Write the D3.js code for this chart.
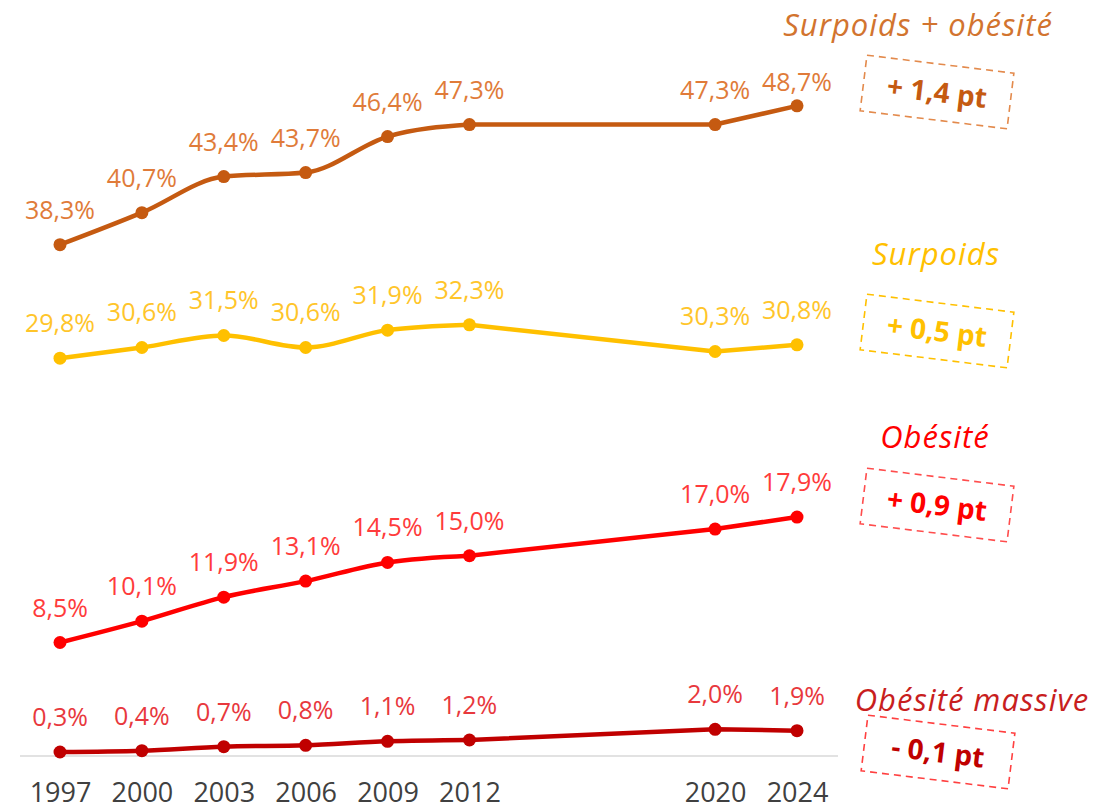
<!DOCTYPE html>
<meta charset="utf-8">
<style>
body { margin: 0; background: #fff; font-family: "Open Sans", sans-serif; }
</style>
<body>
<svg width="1107" height="810"></svg>
<script src="https://d3js.org/d3.v7.min.js"></script>
<script>

var years = ["1997", "2000", "2003", "2006", "2009", "2012", "2020", "2024"];
// position of each year on the axis (2015 and 2018 are empty slots)
var slots = [0, 1, 2, 3, 4, 5, 8, 9];

var surpoidsObesite = [38.3, 40.7, 43.4, 43.7, 46.4, 47.3, 47.3, 48.7];
var surpoids        = [29.8, 30.6, 31.5, 30.6, 31.9, 32.3, 30.3, 30.8];
var obesite         = [8.5, 10.1, 11.9, 13.1, 14.5, 15.0, 17.0, 17.9];
var obesiteMassive  = [0.3, 0.4, 0.7, 0.8, 1.1, 1.2, 2.0, 1.9];

var seriesNames = ["Surpoids + obésité", "Surpoids", "Obésité", "Obésité massive"];
var evolutions  = ["+ 1,4 pt", "+ 0,5 pt", "+ 0,9 pt", "- 0,1 pt"];

var seriesValues = [surpoidsObesite, surpoids, obesite, obesiteMassive];

// look of each series
var styles = [
    {line: "#C55A11", label: "#E07B39", name: "#D2742F", box: "#E38A4C", boxText: "#C55A11", nameX: 918, nameY: 36, boxX: 937, boxY: 92},
    {line: "#FFC000", label: "#FFC52A", name: "#FFC000", box: "#FFC000", boxText: "#FFC000", nameX: 936, nameY: 265, boxX: 937, boxY: 331},
    {line: "#FF0000", label: "#FF3B3B", name: "#FF0000", box: "#FF4D4D", boxText: "#FF0000", nameX: 935, nameY: 448, boxX: 937, boxY: 505},
    {line: "#C00000", label: "#E8383D", name: "#C81E1E", box: "#FF4040", boxText: "#C00000", nameX: 972, nameY: 711, boxX: 938, boxY: 752}
];

var svg = d3.select("svg");

var x = d3.scaleLinear().domain([0, 9]).range([60, 797]);
var y = d3.scaleLinear().domain([0, 50]).range([756, 88.5]);

// baseline
svg.append("line")
    .attr("x1", 20).attr("x2", 838)
    .attr("y1", y(0)).attr("y2", y(0))
    .attr("stroke", "#D9D9D9")
    .attr("stroke-width", 1.5);

// x axis labels
var xAxis = svg.append("g")
    .attr("transform", "translate(0," + (y(0) + 24) + ")")
    .call(d3.axisBottom(x)
        .tickValues(slots)
        .tickSize(0)
        .tickFormat(function(d) { return years[slots.indexOf(d)]; }));
xAxis.select(".domain").remove();
xAxis.selectAll("text")
    .attr("font-family", "Open Sans, sans-serif")
    .attr("font-size", 27)
    .attr("fill", "#404040");

// smoothed inside the continuous run of years, straight across the empty slots
var smooth = d3.line()
    .x(function(d) { return x(d.slot); })
    .y(function(d) { return y(d.value); })
    .curve(d3.curveMonotoneX);
var straight = d3.line()
    .x(function(d) { return x(d.slot); })
    .y(function(d) { return y(d.value); });

seriesValues.forEach(function(values, s) {
    var st = styles[s];
    var g = svg.append("g");
    var pts = values.map(function(v, i) { return {slot: slots[i], value: v}; });

    [smooth(pts.slice(0, 6)), straight(pts.slice(5))].forEach(function(d) {
        g.append("path")
            .attr("fill", "none")
            .attr("stroke", st.line)
            .attr("stroke-width", 4.5)
            .attr("stroke-linejoin", "round")
            .attr("stroke-linecap", "round")
            .attr("d", d);
    });

    g.selectAll("circle")
        .data(pts)
        .enter().append("circle")
        .attr("cx", function(d) { return x(d.slot); })
        .attr("cy", function(d) { return y(d.value); })
        .attr("r", 6.5)
        .attr("fill", st.line);

    g.selectAll("text.val")
        .data(pts)
        .enter().append("text")
        .attr("class", "val")
        .attr("x", function(d) { return x(d.slot); })
        .attr("y", function(d) { return Math.max(y(d.value) - 26, 91); })
        .attr("text-anchor", "middle")
        .attr("font-size", 25)
        .attr("fill", st.label)
        .text(function(d) { return d.value.toFixed(1).replace(".", ",") + "%"; });

    // series name
    svg.append("text")
        .attr("x", st.nameX)
        .attr("y", st.nameY)
        .attr("text-anchor", "middle")
        .attr("font-style", "italic")
        .attr("font-size", 31)
        .attr("letter-spacing", 1)
        .attr("fill", st.name)
        .text(seriesNames[s]);

    // evolution box
    var b = svg.append("g")
        .attr("transform", "translate(" + st.boxX + "," + st.boxY + ") rotate(7)");
    b.append("rect")
        .attr("x", -74).attr("y", -28)
        .attr("width", 148).attr("height", 56)
        .attr("fill", "none")
        .attr("stroke", st.box)
        .attr("stroke-width", 1.6)
        .attr("stroke-dasharray", "7,5");
    b.append("text")
        .attr("x", 0).attr("y", 10)
        .attr("text-anchor", "middle")
        .attr("font-weight", "bold")
        .attr("font-size", 28)
        .attr("fill", st.boxText)
        .text(evolutions[s]);
});

</script>
